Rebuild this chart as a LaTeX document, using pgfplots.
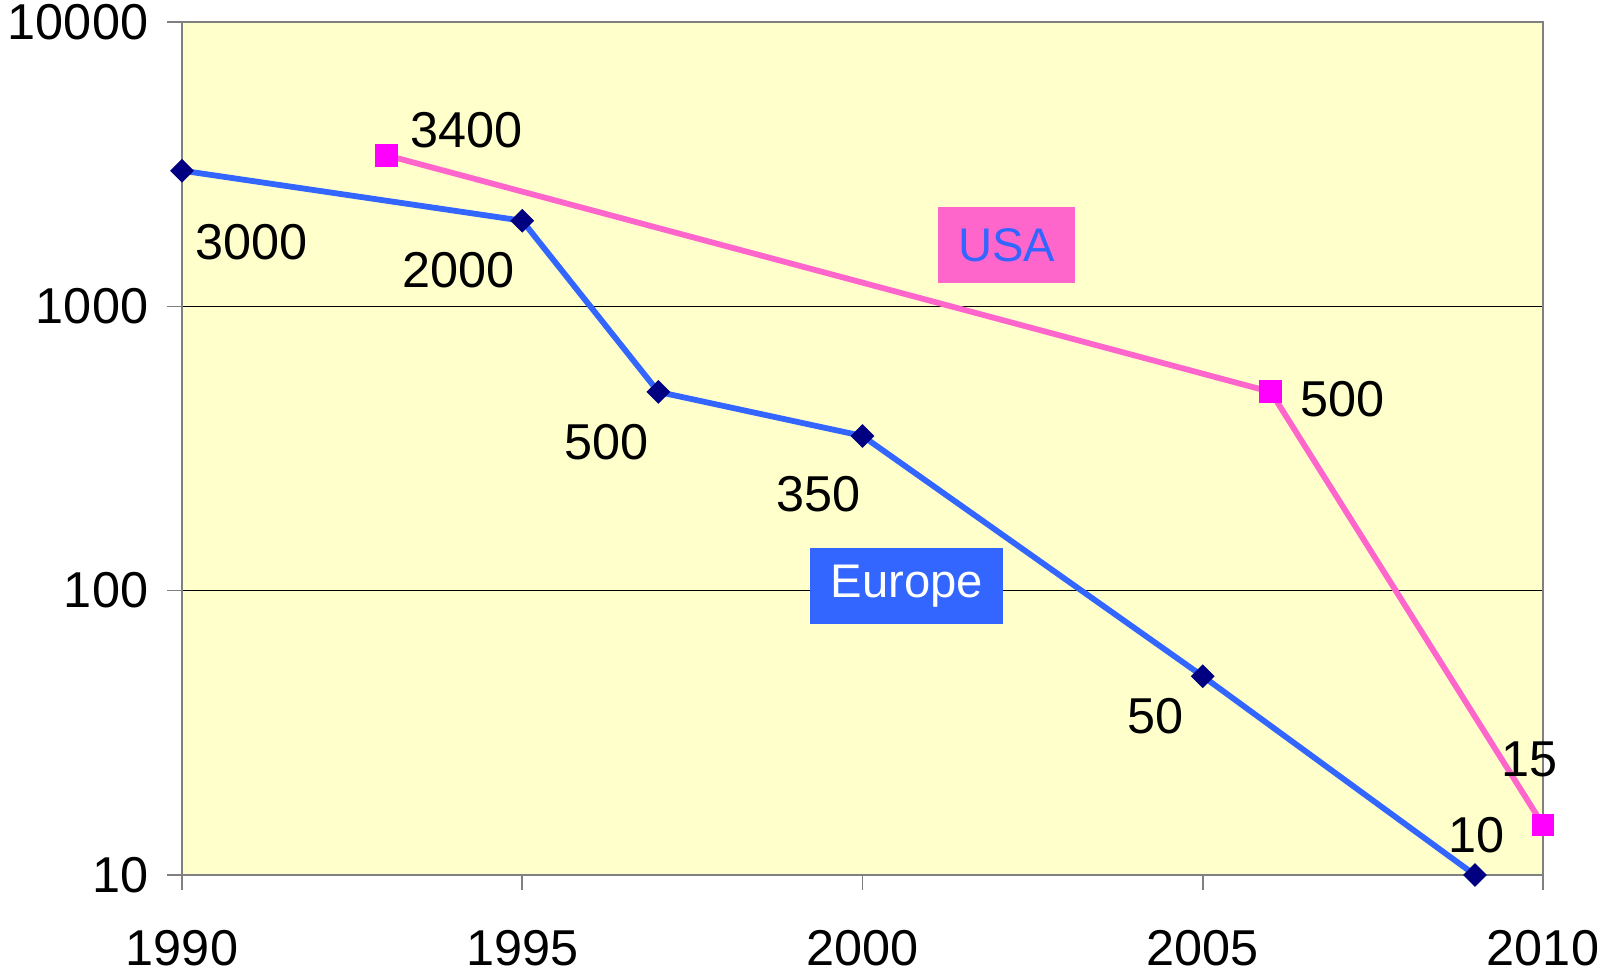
\documentclass[border=0pt]{standalone}
\usepackage{pgfplots}
\pgfplotsset{compat=1.18}
\usepackage{fontspec}
\setmainfont{Liberation Sans}
\definecolor{bgyellow}{HTML}{FFFFCC}
\definecolor{eublue}{HTML}{3366FF}
\definecolor{eunavy}{HTML}{000080}
\definecolor{uspink}{HTML}{FF66CC}
\definecolor{usmag}{HTML}{FF00FF}
\definecolor{axgrey}{HTML}{808080}
\begin{document}
\begin{tikzpicture}
\begin{axis}[
  scale only axis,
  width=340.25pt, height=213.25pt,
  ymode=log,
  xmin=1990, xmax=2010,
  ymin=10, ymax=10000,
  xtick={1990,1995,2000,2005,2010},
  xticklabels={1990,1995,2000,2005,2010},
  ytick={10,100,1000,10000},
  yticklabels={10,100,1000,10000},
  yminorticks=false,
  tick align=outside,
  major tick length=3.75pt,
  tick style={axgrey, line width=0.4pt},
  axis line style={axgrey, line width=0.5pt},
  axis background/.style={fill=bgyellow},
  ymajorgrids,
  major grid style={black, line width=0.35pt},
  xtick pos=bottom, ytick pos=left,
  tick label style={font=\fontsize{12.6pt}{14pt}\selectfont},
  yticklabel style={xshift=-1.2pt},
  xticklabel style={yshift=-6.5pt},
  clip=false,
]
\addplot[eublue, line width=1.45pt, mark=square*, mark size=1.95pt,
  mark options={fill=eunavy, draw=eunavy, line width=0.3pt, rotate=45}] coordinates {
  (1990,3000) (1995,2000) (1997,500) (2000,350) (2005,50) (2009,10)
};
\addplot[uspink, line width=1.45pt, mark=square*, mark size=2.7pt,
  mark options={fill=usmag, draw=usmag, line width=0.3pt}] coordinates {
  (1993,3400) (2006,500) (2010,15)
};
\begin{scope}[every node/.style={font=\fontsize{12.6pt}{14pt}\selectfont, inner sep=0pt}]
\node at (axis cs:1991.02,1683) {3000};
\node at (axis cs:1994.06,1345) {2000};
\node at (axis cs:1996.24,332) {500};
\node at (axis cs:1999.36,219) {350};
\node at (axis cs:2004.30,36.3) {50};
\node at (axis cs:2009.03,13.8) {10};
\node at (axis cs:1994.18,4169) {3400};
\node at (axis cs:2007.05,471) {500};
\node at (axis cs:2009.80,25.6) {15};
\end{scope}
\node[fill=uspink, text=eublue, minimum width=34.3pt, minimum height=19pt, inner sep=0pt,
  font=\fontsize{11.8pt}{13pt}\selectfont] at (axis cs:2002.12,1642) {USA};
\node[fill=eublue, text=white, minimum width=48.2pt, minimum height=19pt, inner sep=0pt,
  font=\fontsize{11.8pt}{13pt}\selectfont] at (axis cs:2000.65,103.6) {\raisebox{-0.8pt}{Europe}};
\end{axis}
\pgfresetboundingbox
\path[use as bounding box] (current axis.south west) ++(-45.5pt,-24.25pt) rectangle ++(404pt,243pt);
\end{tikzpicture}
\end{document}
